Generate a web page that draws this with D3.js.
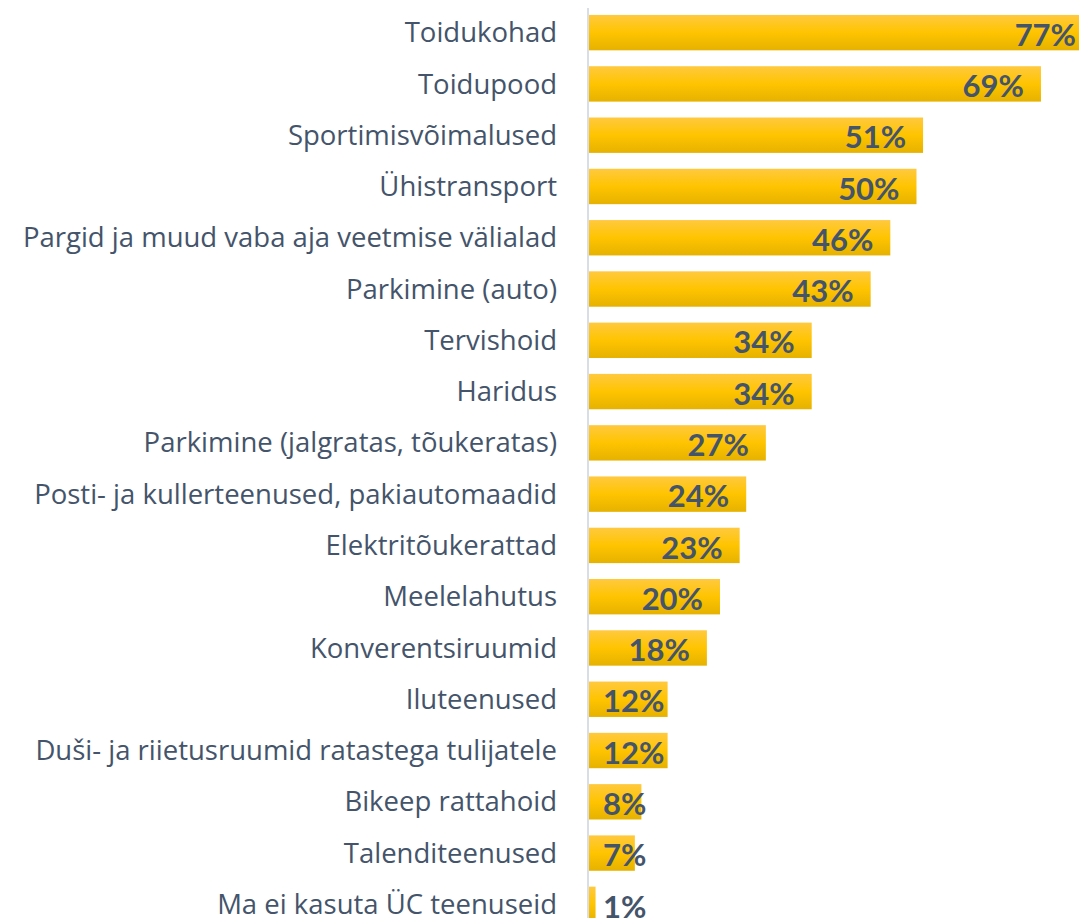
<html>
<head>
<style>
  body { margin: 0; background: #fff; }
  svg { display: block; }
</style>
</head>
<body>
<svg></svg>
<script src="https://cdn.jsdelivr.net/npm/d3@7/dist/d3.min.js"></script>
<script>
// data
var categories = [
  "Toidukohad", "Toidupood", "Sportimisvõimalused", "Ühistransport",
  "Pargid ja muud vaba aja veetmise välialad", "Parkimine (auto)", "Tervishoid",
  "Haridus", "Parkimine (jalgratas, tõukeratas)",
  "Posti- ja kullerteenused, pakiautomaadid", "Elektritõukerattad", "Meelelahutus",
  "Konverentsiruumid", "Iluteenused", "Duši- ja riietusruumid ratastega tulijatele",
  "Bikeep rattahoid", "Talenditeenused", "Ma ei kasuta ÜC teenuseid"
];
var values = [77, 69, 51, 50, 46, 43, 34, 34, 27, 24, 23, 20, 18, 12, 12, 8, 7, 1];

var width = 1079, height = 918;
var textColor = "#44546a";

var svg = d3.select("svg").attr("width", width).attr("height", height);

// gradient for the bars
var grad = svg.append("defs").append("linearGradient")
  .attr("id", "gold").attr("x1", 0).attr("y1", 0).attr("x2", 0).attr("y2", 1);
grad.append("stop").attr("offset", "0%").attr("stop-color", "#ffc93f");
grad.append("stop").attr("offset", "50%").attr("stop-color", "#ffc400");
grad.append("stop").attr("offset", "100%").attr("stop-color", "#e6b200");

var x = d3.scaleLinear().domain([0, 77]).range([589, 589 + 77 * 6.55]);
var y = d3.scaleBand().domain(categories).range([7, 930])
  .paddingInner(0.31).paddingOuter(0.155);

// bars
svg.selectAll("rect.bar")
  .data(values)
  .enter()
  .append("rect")
  .attr("class", "bar")
  .attr("x", x(0))
  .attr("y", function(d, i) { return y(categories[i]); })
  .attr("width", function(d) { return x(d) - x(0); })
  .attr("height", y.bandwidth())
  .attr("fill", "url(#gold)");

// vertical axis line
svg.append("line")
  .attr("x1", 588).attr("x2", 588)
  .attr("y1", 8).attr("y2", height)
  .attr("stroke", "#d9dde5").attr("stroke-width", 2);

// category labels
svg.selectAll("text.cat")
  .data(categories)
  .enter()
  .append("text")
  .attr("class", "cat")
  .attr("x", 557)
  .attr("y", function(d) { return y(d) + y.bandwidth() / 2; })
  .attr("dy", "0.35em")
  .attr("text-anchor", "end")
  .style("font-family", "'Open Sans', sans-serif")
  .style("font-size", "27.5px")
  .style("fill", textColor)
  .text(function(d) { return d; });

// value labels, inside end of bar
var vals = svg.selectAll("text.val")
  .data(values)
  .enter()
  .append("text")
  .attr("class", "val")
  .attr("y", function(d, i) { return y(categories[i]) + y.bandwidth() / 2 + 2; })
  .attr("dy", "0.36em")
  .style("font-family", "Lato, 'Open Sans', sans-serif")
  .style("font-weight", "bold")
  .style("font-size", "31px")
  .style("fill", textColor)
  .text(function(d) { return d + "%"; });

vals.each(function(d) {
  var w = this.getComputedTextLength();
  var right = Math.min(x(d) - 17, 1076);
  var left = Math.max(right - w, 603);
  d3.select(this).attr("x", left);
});
</script>
</body>
</html>
